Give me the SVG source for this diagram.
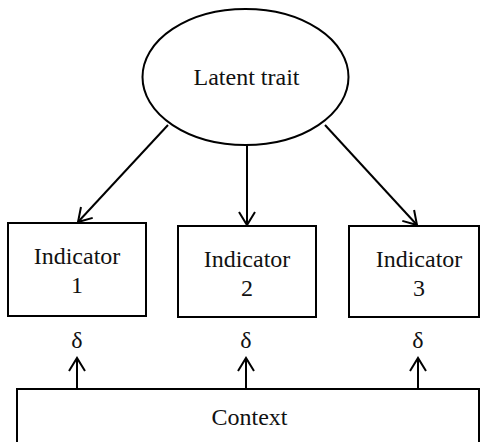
<svg xmlns="http://www.w3.org/2000/svg" width="480" height="442" viewBox="0 0 480 442">
<defs>
<style>
.s{fill:#fff;stroke:#000;stroke-width:2}
.t{font-family:"Liberation Serif","Times New Roman",serif;font-size:24px;fill:#111;text-anchor:middle}
.c{fill:none;stroke:#000;stroke-width:2}
</style>
<marker id="ah" markerWidth="20" markerHeight="20" viewBox="-14 -10 20 20" refX="0" refY="0" orient="auto" markerUnits="userSpaceOnUse">
<path d="M-13,-8 L0,0 L-13,8" fill="none" stroke="#000" stroke-width="2"/>
</marker>
</defs>
<rect width="480" height="442" fill="#fff"/>
<g id="latent">
<ellipse class="s" cx="245.5" cy="77" rx="103" ry="68"/>
<text class="t" x="246.5" y="85">Latent trait</text>
</g>
<g id="ind1">
<rect class="s" x="8" y="223" width="138" height="93"/>
<text class="t" x="77" y="264">Indicator</text>
<text class="t" x="77" y="293">1</text>
</g>
<g id="ind2">
<rect class="s" x="178" y="226" width="138" height="91"/>
<text class="t" x="247" y="267">Indicator</text>
<text class="t" x="247" y="296">2</text>
</g>
<g id="ind3">
<rect class="s" x="349" y="226" width="130" height="91"/>
<text class="t" x="419" y="267">Indicator</text>
<text class="t" x="419" y="296">3</text>
</g>
<g id="context">
<rect class="s" x="17" y="389" width="462" height="60"/>
<text class="t" x="249.5" y="425">Context</text>
</g>
<g id="deltas">
<text class="t" x="77" y="348">δ</text>
<text class="t" x="246" y="348">δ</text>
<text class="t" x="418" y="348">δ</text>
</g>
<g id="connectors">
<line class="c" x1="168" y1="125" x2="78" y2="222" marker-end="url(#ah)"/>
<line class="c" x1="247" y1="145" x2="247" y2="225" marker-end="url(#ah)"/>
<line class="c" x1="325" y1="125" x2="417" y2="225" marker-end="url(#ah)"/>
<line class="c" x1="77" y1="389" x2="77" y2="358" marker-end="url(#ah)"/>
<line class="c" x1="246" y1="389" x2="246" y2="358" marker-end="url(#ah)"/>
<line class="c" x1="418" y1="389" x2="418" y2="358" marker-end="url(#ah)"/>
</g>
</svg>
